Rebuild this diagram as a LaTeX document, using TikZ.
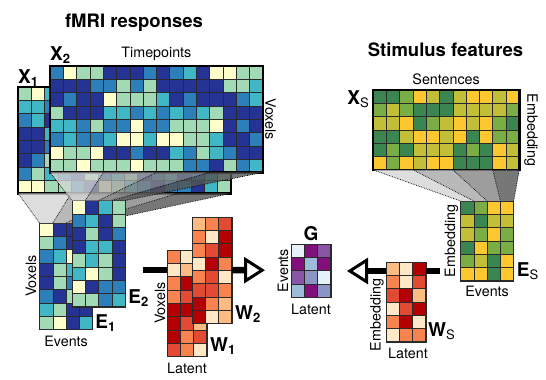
\documentclass[tikz,border=0pt]{standalone}
\usepackage{fontspec}
\setmainfont{TeX Gyre Heros}
\usetikzlibrary{arrows.meta,positioning,calc}
\definecolor{ylgnbu0}{HTML}{FFFFCC}
\definecolor{ylgnbu1}{HTML}{A1DAB4}
\definecolor{ylgnbu2}{HTML}{41B6C4}
\definecolor{ylgnbu3}{HTML}{2C7FB8}
\definecolor{ylgnbu4}{HTML}{253494}
\definecolor{ylgn0}{HTML}{FDC82F}
\definecolor{ylgn1}{HTML}{C3BE38}
\definecolor{ylgn2}{HTML}{7AAE45}
\definecolor{ylgn3}{HTML}{3B8650}
\definecolor{orrd0}{HTML}{FEE8C8}
\definecolor{orrd1}{HTML}{FDBB84}
\definecolor{orrd2}{HTML}{F8834F}
\definecolor{orrd3}{HTML}{E34A33}
\definecolor{orrd4}{HTML}{B30000}
\definecolor{bupu0}{HTML}{E6F0F8}
\definecolor{bupu1}{HTML}{9EBCDA}
\definecolor{bupu2}{HTML}{8C96C6}
\definecolor{bupu3}{HTML}{8856A7}
\definecolor{bupu4}{HTML}{810F7C}
\definecolor{fun0}{HTML}{D4D4D4}
\definecolor{fun1}{HTML}{A8A8A8}
\definecolor{fun2}{HTML}{858585}
\definecolor{fun3}{HTML}{555555}
\definecolor{cellline}{HTML}{2A2A2A}
\tikzstyle{hmcell}=[draw=cellline,line width=0.6pt]
\tikzstyle{thinframe}=[draw=cellline,line width=1pt,inner sep=0pt,outer sep=0pt]
\tikzstyle{thickframe}=[draw=black,line width=2.6pt,inner sep=0pt,outer sep=0pt]
\tikzstyle{axlabel}=[font=\fontsize{14.3}{14.3}\selectfont,inner sep=0pt]
\tikzstyle{mlabel}=[font=\fontsize{19}{19}\selectfont,inner sep=0pt]
\tikzstyle{paneltitle}=[font=\fontsize{18.5}{18.5}\selectfont\bfseries,inner sep=0pt]
\tikzstyle{funneledge}=[densely dotted,line width=0.7pt]
\tikzstyle{link}=[line width=6.5pt]
\tikzstyle{openlink}=[line width=6.5pt,-{Triangle[open,length=21pt,width=26pt,line width=3pt]}]
\newcommand{\cellsz}{13.3}
% heatmap: [frame]{name}{x}{y}{cols}{rows}{palette}{rows of codes}
\newcommand{\heatmap}[8][thinframe]{%
  \foreach \cellrow [count=\r from 0] in {#8} {
    \foreach \c [count=\k from 0] in \cellrow {
      \filldraw[hmcell,fill=#7\c] (#3+\k*\cellsz,#4+\r*\cellsz) rectangle ++(\cellsz,\cellsz);
    }
  }
  \node[#1,minimum width={#5*\cellsz*1pt},minimum height={#6*\cellsz*1pt},anchor=north west] (#2) at (#3,#4) {};
}
% funnels from the bottom of a matrix to the columns of another
\newcommand{\funnels}[3]{%
  \foreach \a/\b/\i in {#3} {
    \pgfmathsetmacro{\ta}{\i/4}
    \pgfmathsetmacro{\tb}{(\i+1)/4}
    \fill[fun\i,fill opacity=0.8] ($(#1.south west)!\a!(#1.south east)$) -- ($(#1.south west)!\b!(#1.south east)$)
      -- ($(#2.north west)!\tb!(#2.north east)$) -- ($(#2.north west)!\ta!(#2.north east)$) -- cycle;
    \draw[funneledge] ($(#1.south west)!\a!(#1.south east)$) -- ($(#2.north west)!\ta!(#2.north east)$);
  }
  \draw[funneledge] (#1.south east) -- (#2.north east);
}
\newcommand{\mname}[2]{\textbf{#1}\raisebox{-3pt}{\fontsize{13}{13}\selectfont#2}}

\begin{document}
\begin{tikzpicture}[x=1pt,y=-1pt]
    \useasboundingbox (0,0) rectangle (546,380);
    \node[paneltitle,anchor=base] (tfmri) at (134,27.7) {fMRI responses};
    \node[paneltitle,anchor=base] (tstim) at (445.5,56.7) {Stimulus features};

    % subject 1
    \heatmap[thickframe]{X1}{18}{87}{16}{8}{ylgnbu}{
      {1,0,2,3,4,4,3,1,2,4,3,1,0,2,4,3},{2,2,3,4,1,2,4,3,4,2,1,4,3,3,1,2},
      {3,2,4,1,3,4,2,0,1,3,4,2,4,1,3,4},{4,4,2,3,4,1,3,4,2,4,3,1,2,4,4,3},
      {4,4,3,2,1,4,4,2,3,1,4,3,4,2,3,4},{4,3,1,4,3,2,4,1,4,3,2,4,3,4,1,2},
      {3,1,2,3,4,1,3,2,1,4,3,2,4,3,2,1},{0,0,1,1,3,4,0,1,2,3,4,3,3,4,2,1}}
    \heatmap{E1}{39.5}{223}{4}{8}{ylgnbu}{
      {0,4,4,4},{1,3,4,2},{3,2,0,1},{4,1,2,3},{4,1,3,4},{3,4,1,2},{2,1,4,4},{1,0,4,2}}
    \funnels{X1}{E1}{0/.25/0,.25/.5/1,.5/.75/2,.75/1/3}

    % subject 2
    \heatmap[thickframe]{X2}{50}{66}{16}{8}{ylgnbu}{
      {3,0,1,1,4,4,4,3,4,3,2,4,0,0,1,1},{4,4,4,3,3,1,3,1,4,4,4,4,4,1,1,2},
      {4,3,4,4,0,1,1,1,2,4,3,4,4,4,3,2},{1,4,4,4,2,2,3,2,3,2,3,2,1,4,4,4},
      {2,2,3,1,3,3,0,3,3,1,1,1,0,4,3,4},{3,2,3,3,2,0,0,2,0,0,1,1,2,4,4,3},
      {0,1,1,0,4,4,3,4,4,2,3,1,2,3,4,4},{1,1,0,1,1,1,0,1,1,1,3,3,4,1,3,2}}
    \heatmap{E2}{72}{200.5}{4}{8}{ylgnbu}{
      {0,4,2,1},{3,2,4,1},{4,1,4,3},{4,2,2,4},{1,2,1,4},{2,0,1,4},{0,4,3,3},{1,1,3,2}}
    \funnels{X2}{E2}{0/.25/0,.25/.5/1,.5/.75/2,.75/1/3}

    % encoding weights and shared space
    \heatmap{W1}{167}{250}{3}{8}{orrd}{
      {2,0,3},{0,1,2},{2,4,1},{2,3,3},{4,4,2},{4,3,1},{4,2,3},{3,2,0}}
    \heatmap{W2}{192}{217}{3}{8}{orrd}{
      {1,2,3},{2,0,4},{2,3,4},{0,4,2},{2,3,0},{3,3,2},{4,2,1},{4,0,1}}
    \heatmap{G}{291}{244}{3}{4}{bupu}{{0,4,3},{4,1,4},{3,2,0},{1,4,2}}

    % stimulus
    \heatmap[thickframe]{Xs}{373}{90}{11}{6}{ylgn}{
      {3,3,2,0,1,3,1,0,0,1,0},{2,1,2,3,3,3,1,1,1,1,2},{1,1,0,3,2,1,0,1,0,2,3},
      {3,3,1,0,0,1,0,3,0,2,2},{3,2,3,1,1,1,3,2,3,0,1},{0,2,0,1,0,0,3,3,3,0,1}}
    \heatmap{Es}{460.5}{201}{4}{6}{ylgn}{
      {3,2,0,0},{1,3,1,1},{1,2,0,2},{3,0,2,2},{2,1,3,0},{0,0,3,0}}
    \funnels{Xs}{Es}{0/.2727/0,.2727/.5455/1,.5455/.8182/2,.8182/1/3}
    \heatmap{Ws}{386}{262}{3}{6}{orrd}{
      {1,0,4},{2,0,3},{3,4,1},{0,3,4},{2,4,0},{0,2,2}}

    % names
    \node[mlabel,anchor=base west] (lX1) at ([yshift=4pt]X1.north west) {\mname{X}{\textbf{1}}};
    \node[mlabel,anchor=base west] (lX2) at ([yshift=6pt]X2.north west) {\mname{X}{\textbf{2}}};
    \node[mlabel,anchor=base east] (lXs) at ([xshift=-4pt,yshift=-14pt]Xs.north west) {\mname{X}{S}};
    \node[mlabel,anchor=base west] (lE1) at ([xshift=2.5pt,yshift=1pt]E1.south east) {\mname{E}{\textbf{1}}};
    \node[mlabel,anchor=base west] (lE2) at ([xshift=3pt,yshift=3.5pt]E2.south east) {\mname{E}{\textbf{2}}};
    \node[mlabel,anchor=base west] (lW1) at ([xshift=3pt,yshift=4.7pt]W1.south east) {\mname{W}{\textbf{1}}};
    \node[mlabel,anchor=base west] (lW2) at ([xshift=3pt,yshift=4pt]W2.south east) {\mname{W}{\textbf{2}}};
    \node[mlabel,anchor=base] (lG) at ([yshift=4pt]G.north) {\textbf{G}};
    \node[mlabel,anchor=base west] (lEs) at ([xshift=3pt,yshift=4pt]Es.south east) {\mname{E}{S}};
    \node[mlabel,anchor=base west] (lWs) at ([xshift=2pt,yshift=5pt]Ws.south east) {\mname{W}{S}};

    % axes
    \node[axlabel,anchor=base] (aX2t) at ([yshift=9pt]X2.north) {Timepoints};
    \node[axlabel,anchor=base,rotate=-90] (aX2v) at ([xshift=2.5pt]X2.east) {Voxels};
    \node[axlabel,anchor=base] (aXst) at ([yshift=6pt]Xs.north) {Sentences};
    \node[axlabel,anchor=base,rotate=-90] (aXse) at ([xshift=8pt]Xs.east) {Embedding};
    \node[axlabel,anchor=base,rotate=90] (aE1v) at ([xshift=-3.5pt]E1.west) {Voxels};
    \node[axlabel,anchor=base] (aE1e) at ([yshift=-17pt]E1.south) {Events};
    \node[axlabel,anchor=base,rotate=90] (aW1v) at ([xshift=-2pt]W1.west) {Voxels};
    \node[axlabel,anchor=base] (aW1l) at ([yshift=-16.6pt]W1.south) {Latent};
    \node[axlabel,anchor=base,rotate=90] (aGe) at ([xshift=-3pt]G.west) {Events};
    \node[axlabel,anchor=base] (aGl) at ([yshift=-16.8pt]G.south) {Latent};
    \node[axlabel,anchor=base,rotate=90] (aEse) at ([xshift=-5.5pt]Es.west) {Embedding};
    \node[axlabel,anchor=base] (aEsv) at ([yshift=-16pt]Es.south) {Events};
    \node[axlabel,anchor=base,rotate=90] (aWse) at ([xshift=-5.5pt,yshift=-13pt]Ws.west) {Embedding};
    \node[axlabel,anchor=base] (aWsl) at ([xshift=2pt,yshift=-16.2pt]Ws.south) {Latent};

    % projections into the shared space
    \coordinate (e2out) at (143,270);
    \coordinate (gin) at (265,270.2);
    \coordinate (esout) at (440,271);
    \coordinate (gsin) at (347,271);
    \draw[link] (e2out) -- (e2out -| W1.west);
    \draw[openlink] (W2.east) -- (gin);
    \draw[link] (esout) -- (esout -| Ws.east);
    \draw[openlink] (Ws.west |- esout) -- (gsin);
\end{tikzpicture}
\end{document}
